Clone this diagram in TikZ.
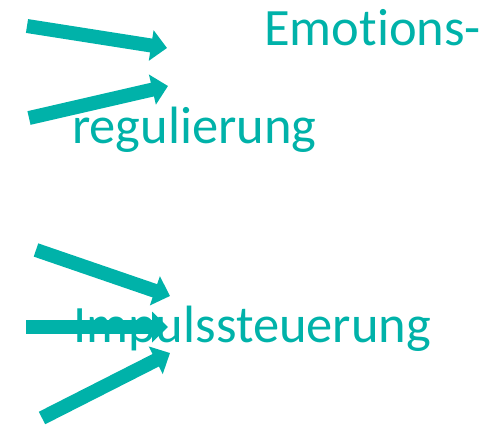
\documentclass[tikz,border=0pt]{standalone}
\usepackage{fontspec}
\setmainfont[Ligatures=NoCommon]{Carlito}
\usetikzlibrary{arrows.meta}
\definecolor{teal}{HTML}{00B2A9}
\tikzset{
  label text/.style={anchor=base west, inner sep=0pt, text=teal, font=\fontsize{52.5}{62}\selectfont},
  fat arrow/.style={draw=teal, line width=14pt, -{Triangle[length=16pt,width=30pt]}},
}
\begin{document}
\begin{tikzpicture}[x=1pt,y=-1pt]
  \useasboundingbox (0,0) rectangle (498,426);
  % labels
  \node[label text] (emo) at (264,45) {Emotions-};
  \node[label text] (reg) at (72,143) {regulierung};
  \node[label text] (imp) at (73,342) {Impulssteuerung};
  % arrow tails and tips
  \coordinate (a1) at (27,26);  \coordinate (b1) at (167,48);
  \coordinate (a2) at (29,118); \coordinate (b2) at (168,86);
  \coordinate (a3) at (36,250); \coordinate (b3) at (170,296);
  \coordinate (a4) at (26,327); \coordinate (b4) at (168,327);
  \coordinate (a5) at (42,418); \coordinate (b5) at (170,353);
  \foreach \i in {1,...,5} \draw[fat arrow] (a\i) -- (b\i);
\end{tikzpicture}
\end{document}
